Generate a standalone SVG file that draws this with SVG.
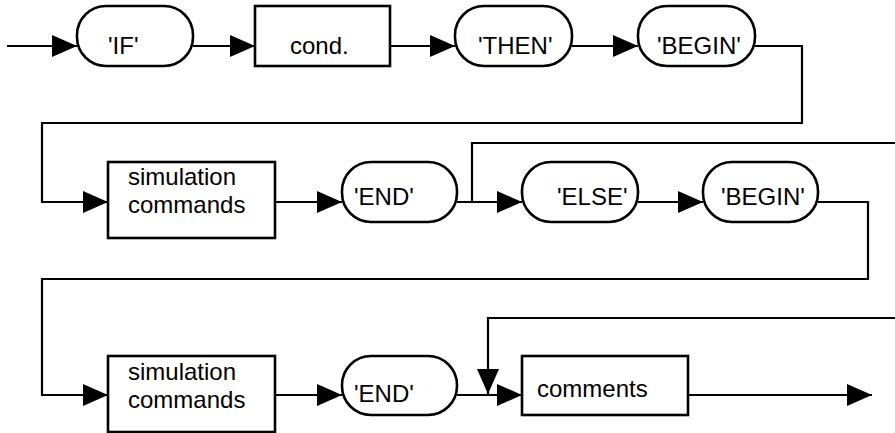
<svg xmlns="http://www.w3.org/2000/svg" width="895" height="433" viewBox="0 0 895 433">
  <style>
    .shape { fill: #ffffff; stroke: #000000; stroke-width: 2.6; }
    .wire { fill: none; stroke: #000000; stroke-width: 2.2; }
    .lbl { font-family: "Liberation Sans", Arial, sans-serif; font-size: 24px; fill: #000000; }
  </style>
  <defs>
    <marker id="arrow" viewBox="0 0 25 22" refX="25" refY="11" markerWidth="25" markerHeight="22" markerUnits="userSpaceOnUse" orient="auto">
      <path d="M0,0 L25,11 L0,22 Z" fill="#000000"/>
    </marker>
  </defs>

  <!-- connectors -->
  <g id="connectors">
    <path class="wire" d="M7,46 H77" marker-end="url(#arrow)"/>
    <path class="wire" d="M193,46 H255" marker-end="url(#arrow)"/>
    <path class="wire" d="M390,46 H455" marker-end="url(#arrow)"/>
    <path class="wire" d="M572,46 H638" marker-end="url(#arrow)"/>
    <path class="wire" d="M755,46 H802 V123 H42 V202 H108" marker-end="url(#arrow)"/>
    <path class="wire" d="M275,202 H342" marker-end="url(#arrow)"/>
    <path class="wire" d="M457,202 H522" marker-end="url(#arrow)"/>
    <path class="wire" d="M472,202 V143 H895"/>
    <path class="wire" d="M638,202 H703" marker-end="url(#arrow)"/>
    <path class="wire" d="M818,202 H868 V279 H42 V395 H108" marker-end="url(#arrow)"/>
    <path class="wire" d="M275,395 H342" marker-end="url(#arrow)"/>
    <path class="wire" d="M457,395 H522" marker-end="url(#arrow)"/>
    <path class="wire" d="M895,318 H488 V394" marker-end="url(#arrow)"/>
    <path class="wire" d="M688,395 H872" marker-end="url(#arrow)"/>
  </g>

  <!-- row 1 -->
  <g id="if">
    <rect class="shape" x="77" y="6" width="116" height="60" rx="29"/>
    <text class="lbl" x="108" y="54">'IF'</text>
  </g>
  <g id="cond">
    <rect class="shape" x="255" y="6" width="135" height="60"/>
    <text class="lbl" x="290" y="54">cond.</text>
  </g>
  <g id="then">
    <rect class="shape" x="455" y="6" width="117" height="60" rx="29"/>
    <text class="lbl" x="478" y="54">'THEN'</text>
  </g>
  <g id="begin1">
    <rect class="shape" x="638" y="6" width="117" height="60" rx="29"/>
    <text class="lbl" x="657" y="54">'BEGIN'</text>
  </g>

  <!-- row 2 -->
  <g id="sim1">
    <rect class="shape" x="108" y="162" width="167" height="76"/>
    <text class="lbl" x="128" y="185">simulation</text>
    <text class="lbl" x="128" y="213">commands</text>
  </g>
  <g id="end1">
    <rect class="shape" x="342" y="162" width="115" height="60" rx="29"/>
    <text class="lbl" x="354" y="205">'END'</text>
  </g>
  <g id="else">
    <rect class="shape" x="522" y="162" width="116" height="60" rx="29"/>
    <text class="lbl" x="557" y="205">'ELSE'</text>
  </g>
  <g id="begin2">
    <rect class="shape" x="703" y="162" width="115" height="60" rx="29"/>
    <text class="lbl" x="721" y="205">'BEGIN'</text>
  </g>

  <!-- row 3 -->
  <g id="sim2">
    <rect class="shape" x="108" y="356" width="167" height="76"/>
    <text class="lbl" x="128" y="380">simulation</text>
    <text class="lbl" x="128" y="408">commands</text>
  </g>
  <g id="end2">
    <rect class="shape" x="342" y="356" width="115" height="59" rx="29"/>
    <text class="lbl" x="354" y="402">'END'</text>
  </g>
  <g id="comments">
    <rect class="shape" x="522" y="356" width="166" height="59"/>
    <text class="lbl" x="537" y="397">comments</text>
  </g>
</svg>
